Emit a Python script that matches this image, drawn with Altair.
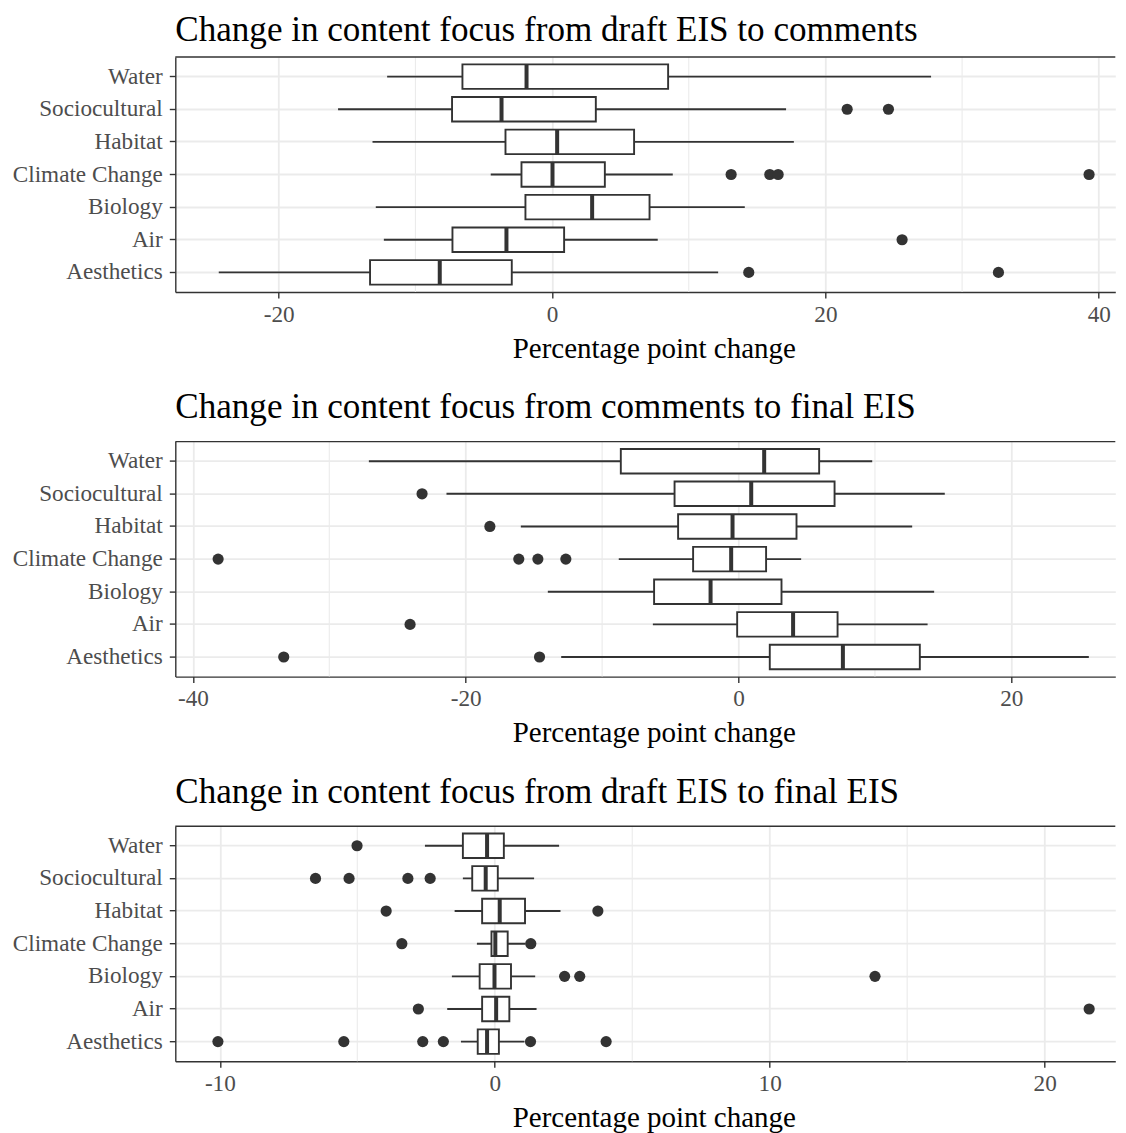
import altair as alt
import pandas as pd

categories = ["Water", "Sociocultural", "Habitat", "Climate Change", "Biology", "Air", "Aesthetics"]

# Panel 1: draft EIS -> comments
p1_low = [-12.07, -15.66, -13.14, -4.49, -12.90, -12.31, -24.39]
p1_q1 = [-6.56, -7.32, -3.41, -2.24, -1.95, -7.29, -13.32]
p1_med = [-1.87, -3.70, 0.37, 0.03, 2.93, -3.34, -8.22]
p1_q3 = [8.49, 3.20, 6.00, 3.86, 7.13, 0.88, -2.95]
p1_high = [27.73, 17.12, 17.69, 8.83, 14.10, 7.73, 12.15]
p1_out_cat = ["Sociocultural", "Sociocultural", "Climate Change", "Climate Change",
              "Climate Change", "Climate Change", "Air", "Aesthetics", "Aesthetics"]
p1_out_val = [21.59, 24.61, 13.10, 15.93, 16.54, 39.29, 25.61, 14.39, 32.66]

# Panel 2: comments -> final EIS
p2_low = [-27.10, -21.41, -15.96, -8.78, -13.98, -6.28, -13.00]
p2_q1 = [-8.63, -4.69, -4.43, -3.33, -6.19, -0.10, 2.29]
p2_med = [1.88, 0.93, -0.44, -0.54, -2.05, 4.00, 7.65]
p2_q3 = [5.91, 7.04, 4.25, 2.02, 3.15, 7.26, 13.29]
p2_high = [9.80, 15.12, 12.73, 4.59, 14.34, 13.86, 25.68]
p2_out_cat = ["Sociocultural", "Habitat", "Climate Change", "Climate Change", "Climate Change",
              "Climate Change", "Air", "Aesthetics", "Aesthetics"]
p2_out_val = [-23.20, -18.23, -38.15, -16.11, -14.71, -12.66, -24.08, -33.34, -14.59]

# Panel 3: draft EIS -> final EIS
p3_low = [-2.54, -1.16, -1.46, -0.65, -1.56, -1.73, -1.23]
p3_q1 = [-1.16, -0.82, -0.46, -0.12, -0.55, -0.46, -0.62]
p3_med = [-0.28, -0.33, 0.18, 0.02, -0.01, 0.05, -0.28]
p3_q3 = [0.33, 0.11, 1.10, 0.47, 0.59, 0.53, 0.15]
p3_high = [2.34, 1.43, 2.39, 1.12, 1.47, 1.52, 1.08]
p3_out_cat = ["Water", "Sociocultural", "Sociocultural", "Sociocultural", "Sociocultural",
              "Habitat", "Habitat", "Climate Change", "Climate Change",
              "Biology", "Biology", "Biology", "Air", "Air",
              "Aesthetics", "Aesthetics", "Aesthetics", "Aesthetics", "Aesthetics", "Aesthetics"]
p3_out_val = [-5.01, -6.52, -5.30, -3.16, -2.35,
              -3.95, 3.75, -3.38, 1.31,
              2.54, 3.09, 13.83, -2.78, 21.62,
              -10.07, -5.49, -2.62, -1.87, 1.30, 4.05]

titles = ["Change in content focus from draft EIS to comments",
          "Change in content focus from comments to final EIS",
          "Change in content focus from draft EIS to final EIS"]
x_title = "Percentage point change"

W = 940
H = 235
FONT = "Liberation Serif"
DARK = "#333333"
GRID = "#EBEBEB"


def panel(title, low, q1, med, q3, high, out_cat, out_val, domain, major, minor, toff):
    box_df = pd.DataFrame({"cat": categories, "low": low, "q1": q1, "med": med, "q3": q3, "high": high})
    out_df = pd.DataFrame({"cat": out_cat, "val": out_val})
    minor_df = pd.DataFrame({"m": minor})

    xscale = alt.Scale(domain=domain, nice=False, zero=False)
    xaxis = alt.Axis(values=major, grid=True, gridColor=GRID, gridWidth=1.8,
                     domain=True, domainColor=DARK, domainWidth=1.4,
                     ticks=True, tickColor=DARK, tickSize=6, tickWidth=1.4,
                     labelExpr="'' + datum.value", labelFont=FONT, labelFontSize=23.2,
                     labelColor="#4D4D4D", labelPadding=5,
                     title=x_title, titleFont=FONT, titleFontSize=29, titleFontWeight="normal",
                     titleColor="black", titlePadding=9, titleX=478.5)
    yscale = alt.Scale(paddingInner=0, paddingOuter=0.1)
    yaxis = alt.Axis(title=None, grid=True, gridColor=GRID, gridWidth=1.8, bandPosition=0.5,
                     domain=True, domainColor=DARK, domainWidth=1.4,
                     ticks=True, tickColor=DARK, tickSize=6, tickWidth=1.4, tickBand="center",
                     labelFont=FONT, labelFontSize=23.2, labelColor="#4D4D4D", labelPadding=7)

    def X(field):
        return alt.X(field, scale=xscale, axis=xaxis, title=x_title)

    Y = alt.Y("cat:N", sort=categories, scale=yscale, axis=yaxis)

    minor_layer = alt.Chart(minor_df).mark_rule(color=GRID, strokeWidth=1.1).encode(x=X("m:Q"))
    whisk = alt.Chart(box_df).mark_rule(color=DARK, strokeWidth=1.9).encode(
        x=X("low:Q"), x2="high:Q", y=Y)
    box = alt.Chart(box_df).mark_bar(size=24.5, fill="white", stroke=DARK, strokeWidth=1.9).encode(
        x=X("q1:Q"), x2="q3:Q", y=Y)
    medt = alt.Chart(box_df).mark_tick(size=24.5, thickness=4, color=DARK, opacity=1).encode(
        x=X("med:Q"), y=Y)
    pts = alt.Chart(out_df).mark_circle(size=125, color=DARK, opacity=1).encode(
        x=X("val:Q"), y=Y)
    top = alt.Chart(pd.DataFrame({"a": [0]})).mark_rule(color=DARK, strokeWidth=1.4).encode(
        x=alt.value(0), x2=alt.value(W), y=alt.value(0))

    return alt.layer(minor_layer, whisk, box, medt, pts, top).properties(
        width=W, height=H,
        title=alt.TitleParams(title, anchor="start", frame="group", font=FONT, fontSize=35.1,
                              fontWeight="normal", color="black", offset=toff))


c1 = panel(titles[0], p1_low, p1_q1, p1_med, p1_q3, p1_high, p1_out_cat, p1_out_val,
           [-27.57, 41.21], [-20, 0, 20, 40], [-10, 10, 30], 8.3)
c2 = panel(titles[1], p2_low, p2_q1, p2_med, p2_q3, p2_high, p2_out_cat, p2_out_val,
           [-41.29, 27.62], [-40, -20, 0, 20], [-30, -10, 10], 15.5)
c3 = panel(titles[2], p3_low, p3_q1, p3_med, p3_q3, p3_high, p3_out_cat, p3_out_val,
           [-11.62, 22.57], [-10, 0, 10, 20], [-5, 5, 15], 15.5)

chart = alt.vconcat(c1, c2, c3, spacing=25.6).properties(
    padding={"left": 3.3, "top": 4, "right": 0, "bottom": 0},
    background="white"
).configure_view(stroke="transparent", strokeWidth=0)

chart.save("out.html", embed_options={"renderer": "svg", "actions": False})
